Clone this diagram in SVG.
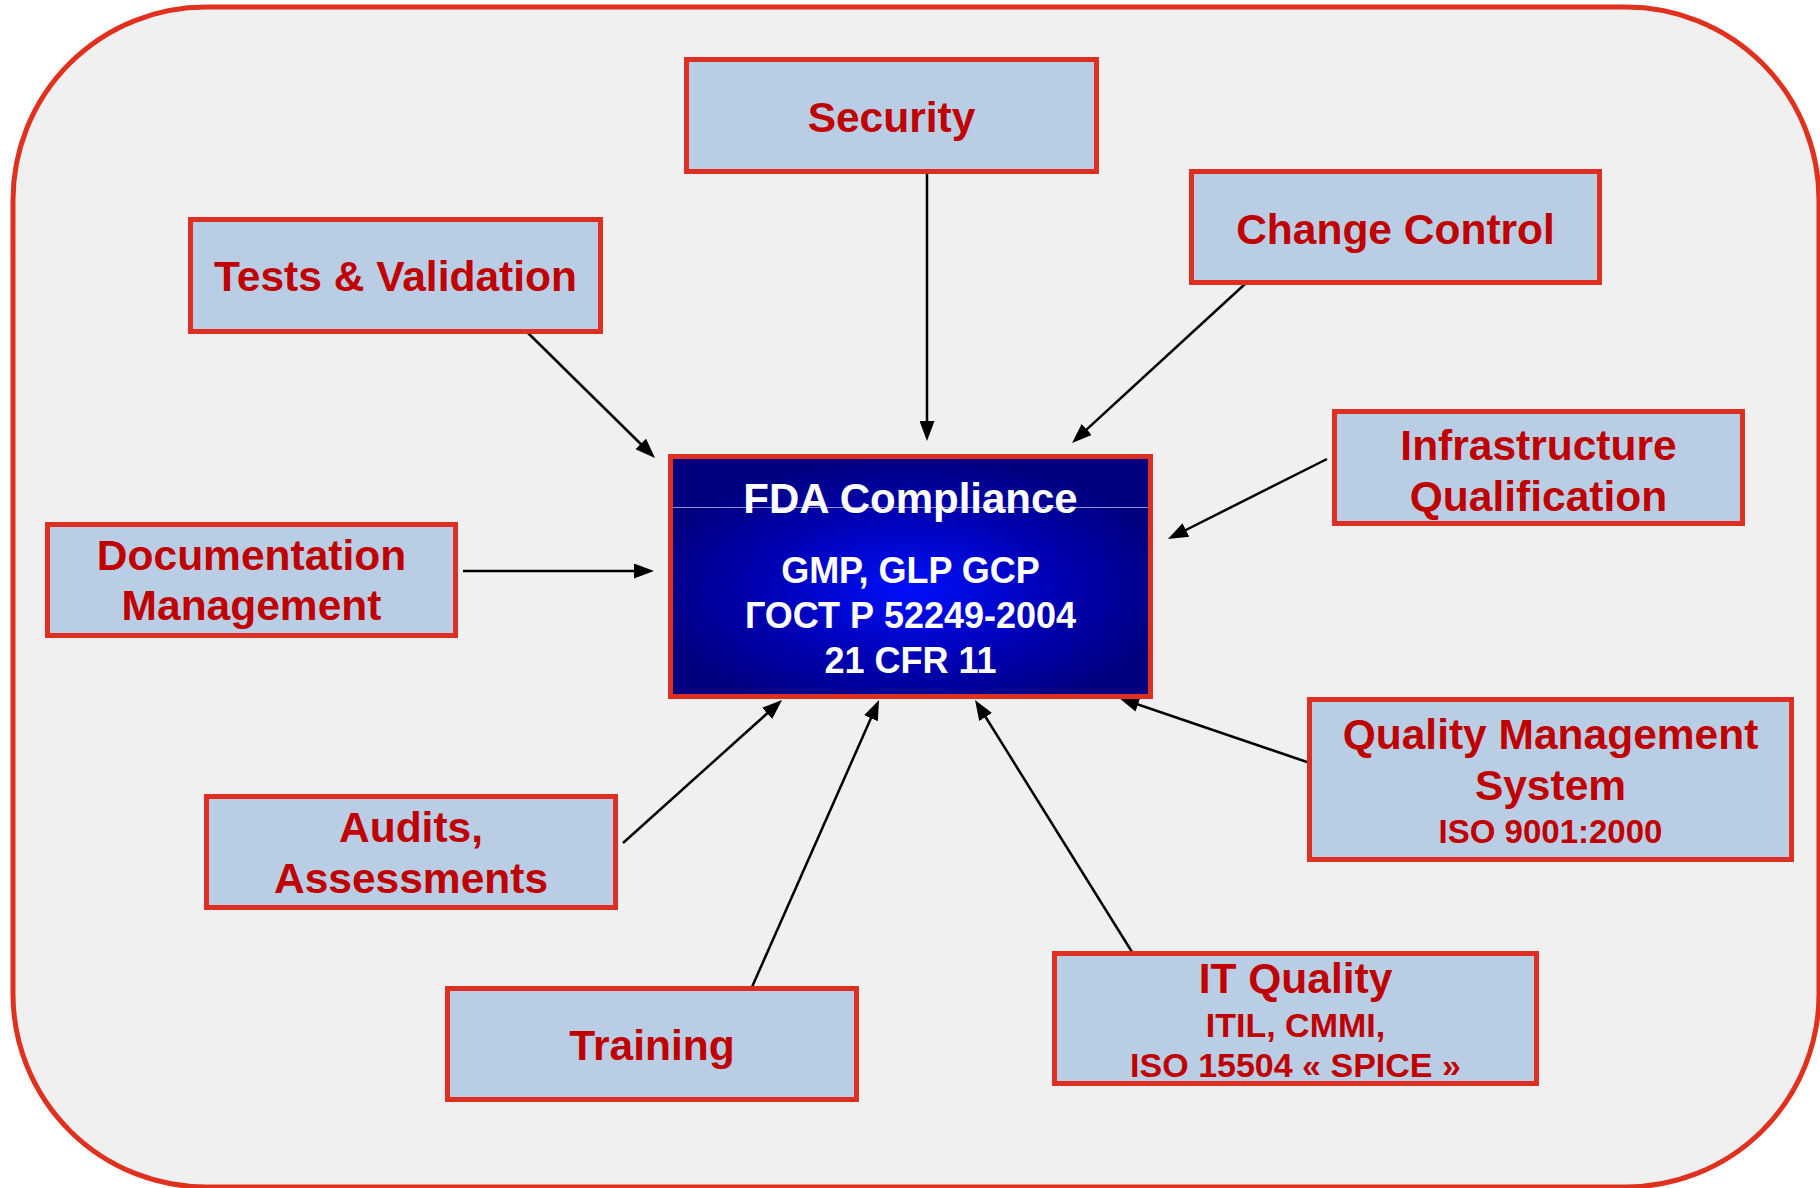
<svg xmlns="http://www.w3.org/2000/svg" width="1820" height="1188" viewBox="0 0 1820 1188">
  <style>
    .box { fill: #B9CDE4; stroke: #DE3020; stroke-width: 5; }
    .lbl { font-family: "Liberation Sans", Arial, Helvetica, sans-serif; font-weight: bold; fill: #C00000; text-anchor: middle; }
    .t { font-size: 42.5px; }
    .s { font-size: 34px; }
    .core { font-family: "Liberation Sans", Arial, Helvetica, sans-serif; font-weight: bold; fill: #FFFFFF; text-anchor: middle; }
    .link { stroke: #000000; stroke-width: 2.5; fill: none; marker-end: url(#head); }
  </style>
  <defs>
    <marker id="head" markerUnits="userSpaceOnUse" markerWidth="20" markerHeight="15" viewBox="0 0 20 15" refX="10" refY="7.5" orient="auto">
      <path d="M0,0 L20,7.5 L0,15 z" fill="#000000"/>
    </marker>
    <radialGradient id="coreFill" cx="0.5" cy="0.55" r="0.55">
      <stop offset="0" stop-color="#0010FA"/>
      <stop offset="0.6" stop-color="#0000AE"/>
      <stop offset="1" stop-color="#000080"/>
    </radialGradient>
  </defs>

  <rect x="0" y="0" width="1820" height="1188" fill="#FFFFFF"/>
  <!-- outer frame -->
  <rect id="frame" x="13" y="7" width="1806" height="1180" rx="193" ry="193" fill="#F0F0F0" stroke="#E0301E" stroke-width="5"/>

  <!-- connectors: each line stops 10px short of its arrow tip -->
  <g id="connectors">
    <line class="link" x1="927" y1="174" x2="927" y2="431"/>
    <line class="link" x1="527" y1="332" x2="647.9" y2="451.0"/>
    <line class="link" x1="1245" y1="284" x2="1079.4" y2="436.2"/>
    <line class="link" x1="1327" y1="459" x2="1176.9" y2="534.5"/>
    <line class="link" x1="463" y1="571" x2="644" y2="571"/>
    <line class="link" x1="623" y1="843" x2="774.6" y2="706.7"/>
    <line class="link" x1="752" y1="987" x2="875.0" y2="709.1"/>
    <line class="link" x1="1132" y1="952" x2="980.3" y2="708.5"/>
    <line class="link" x1="1307" y1="762" x2="1128.5" y2="701.2"/>
  </g>

  <!-- central node -->
  <g id="fda">
    <rect x="670.5" y="456.5" width="480" height="240" fill="url(#coreFill)" stroke="#DE3020" stroke-width="5"/>
    <line x1="673" y1="507.5" x2="1148" y2="507.5" stroke="#9090D8" stroke-width="1"/>
    <text class="core" x="910.5" y="513" font-size="42">FDA Compliance</text>
    <text class="core" x="910.5" y="583" font-size="36">GMP, GLP GCP</text>
    <text class="core" x="910.5" y="628" font-size="36">ГОСТ Р 52249-2004</text>
    <text class="core" x="910.5" y="673" font-size="36">21 CFR 11</text>
  </g>

  <g id="security">
    <rect class="box" x="686.5" y="59.5" width="410" height="112"/>
    <text class="lbl t" x="891.5" y="132">Security</text>
  </g>

  <g id="tests">
    <rect class="box" x="190.5" y="219.5" width="410" height="112"/>
    <text class="lbl t" x="395.5" y="291">Tests &amp; Validation</text>
  </g>

  <g id="change-control">
    <rect class="box" x="1191.5" y="171.5" width="408" height="111"/>
    <text class="lbl t" x="1395.5" y="244">Change Control</text>
  </g>

  <g id="infrastructure">
    <rect class="box" x="1334.5" y="411.5" width="408" height="112"/>
    <text class="lbl t" x="1538.5" y="460">Infrastructure</text>
    <text class="lbl t" x="1538.5" y="511">Qualification</text>
  </g>

  <g id="documentation">
    <rect class="box" x="47.5" y="524.5" width="408" height="111"/>
    <text class="lbl t" x="251.5" y="570">Documentation</text>
    <text class="lbl t" x="251.5" y="620">Management</text>
  </g>

  <g id="audits">
    <rect class="box" x="206.5" y="796.5" width="409" height="111"/>
    <text class="lbl t" x="411" y="842">Audits,</text>
    <text class="lbl t" x="411" y="893">Assessments</text>
  </g>

  <g id="training">
    <rect class="box" x="447.5" y="988.5" width="409" height="111"/>
    <text class="lbl t" x="652" y="1060">Training</text>
  </g>

  <g id="it-quality">
    <rect class="box" x="1054.5" y="953.5" width="482" height="130"/>
    <text class="lbl t" x="1295.5" y="993">IT Quality</text>
    <text class="lbl s" x="1295.5" y="1037">ITIL, CMMI,</text>
    <text class="lbl s" x="1295.5" y="1077">ISO 15504 « SPICE »</text>
  </g>

  <g id="qms">
    <rect class="box" x="1309.5" y="699.5" width="482" height="160"/>
    <text class="lbl t" x="1550.5" y="749">Quality Management</text>
    <text class="lbl t" x="1550.5" y="800">System</text>
    <text class="lbl" x="1550.5" y="843" font-size="33">ISO 9001:2000</text>
  </g>
</svg>
